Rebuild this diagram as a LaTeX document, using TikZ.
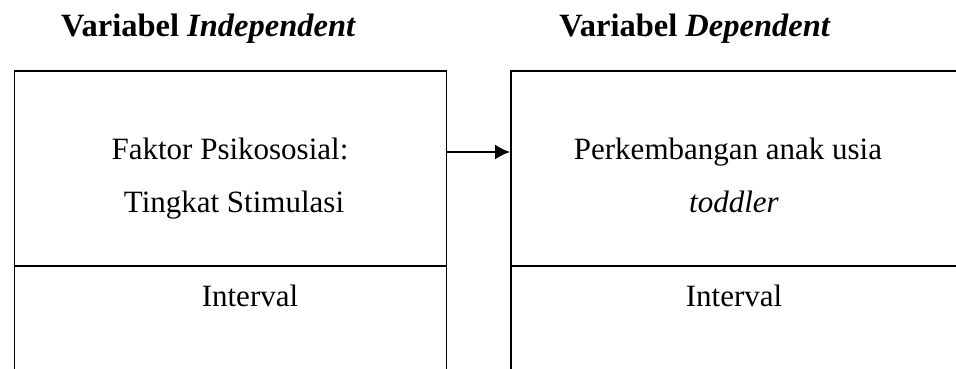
\documentclass[tikz,border=0pt]{standalone}
\usepackage{fontspec}
\setmainfont{Liberation Serif}
\usetikzlibrary{arrows.meta}
\begin{document}
\begin{tikzpicture}[x=1pt,y=-1pt,
  frame/.style={draw=black,line width=1.6pt,rectangle,inner sep=0pt,anchor=north west},
  body/.style={font=\fontsize{31}{36}\selectfont,anchor=base,inner sep=0pt},
  head/.style={font=\fontsize{32.5}{38}\selectfont\bfseries,anchor=base,inner sep=0pt}]
\useasboundingbox (0,0) rectangle (956,369);
% boxes (extend below and right of the page)
\node[frame,minimum width=432pt,minimum height=340pt] (lbox) at (13.5,70.5) {};
\node[frame,minimum width=480pt,minimum height=340pt] (rbox) at (510,70.5) {};
\coordinate (ldivL) at (13.5,266);
\coordinate (ldivR) at (445.5,266);
\coordinate (rdivL) at (510,266);
\coordinate (rdivR) at (1000,266);
\draw[line width=1.6pt] (ldivL) -- (ldivR);
\draw[line width=1.6pt] (rdivL) -- (rdivR);
% titles
\node[head] (t1) at (208.5,37) {Variabel \textit{Independent}};
\node[head] (t2) at (695,37) {Variabel \textit{Dependent}};
% contents
\node[body] (a1) at (230,159) {Faktor Psikososial:};
\node[body] (a2) at (234,212) {Tingkat Stimulasi};
\node[body] (b1) at (728,159) {Perkembangan anak usia};
\node[body] (b2) at (734,212) {\textit{toddler}};
\node[body] (a3) at (250,306) {Interval};
\node[body] (b3) at (734,306) {Interval};
% arrow
\coordinate (as) at (445.5,152);
\coordinate (ae) at (510,152);
\draw[line width=1.5pt,-{Latex[length=15pt,width=15pt]}] (as) -- (ae);
\end{tikzpicture}
\end{document}
